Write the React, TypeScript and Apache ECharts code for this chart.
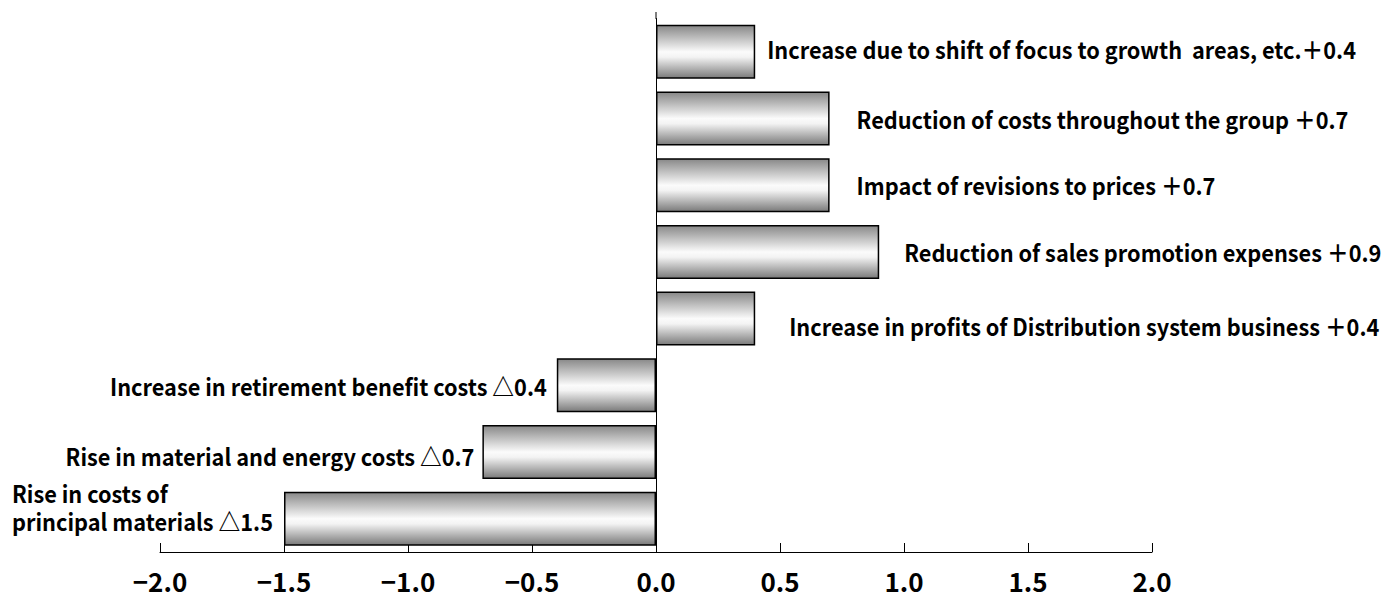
import React, { useEffect, useRef } from "react";
import * as echarts from "echarts";

// Data, top to bottom
const itemLabels: string[] = [
  "Increase due to shift of focus to growth  areas, etc.＋0.4",
  "Reduction of costs throughout the group ＋0.7",
  "Impact of revisions to prices ＋0.7",
  "Reduction of sales promotion expenses ＋0.9",
  "Increase in profits of Distribution system business ＋0.4",
  "Increase in retirement benefit costs △0.4",
  "Rise in material and energy costs △0.7",
  "Rise in costs of\nprincipal materials △1.5",
];
const values: number[] = [0.4, 0.7, 0.7, 0.9, 0.4, -0.4, -0.7, -1.5];
const axisMin = -2.0;
const axisMax = 2.0;
const axisStep = 0.5;

// label placement tweaks (position only)
const labelDistance: number[] = [12, 27, 27, 25, 34, 10, 8, 272];
const labelDy: number[] = [-3, 1, 0, 0, 8, 1, 4, -12];

const FONT = "'Noto Sans CJK JP', sans-serif";
const LABEL_SIZE = 23.5;
const LABEL_SCALE_X = 0.925;

export default function App() {
  const ref = useRef<HTMLDivElement>(null);
  useEffect(() => {
    document.body.style.margin = "0";
    if (!ref.current) return;
    const chart = echarts.init(ref.current, null, { renderer: "svg" });
    const gradient = new echarts.graphic.LinearGradient(0, 0, 0, 1, [
      { offset: 0, color: "#888888" },
      { offset: 0.5, color: "#fbfbfb" },
      { offset: 0.6, color: "#f3f3f3" },
      { offset: 1, color: "#7a7a7a" },
    ]);
    chart.setOption({
      animation: false,
      grid: { left: 160, right: 230, top: 18.5, bottom: 57, containLabel: false },
      xAxis: {
        type: "value",
        min: axisMin,
        max: axisMax,
        interval: axisStep,
        splitLine: { show: false },
        axisLine: { show: true, onZero: false, lineStyle: { color: "#000", width: 1 } },
        axisTick: { show: true, inside: true, length: 9, lineStyle: { color: "#000", width: 1 } },
        axisLabel: {
          margin: 15,
          color: "#000",
          fontSize: 26,
          fontWeight: "bold",
          fontFamily: FONT,
          formatter: (v: number) => (v < 0 ? "−" + Math.abs(v).toFixed(1) : v.toFixed(1)),
        },
      },
      yAxis: {
        type: "category",
        inverse: true,
        data: itemLabels,
        axisLine: { show: true, onZero: true, lineStyle: { color: "#000", width: 1 } },
        axisTick: { show: false },
        axisLabel: { show: false },
        splitLine: { show: false },
      },
      series: [
        {
          type: "bar",
          data: values,
          barCategoryGap: "19%",
          itemStyle: { color: gradient, borderColor: "#000", borderWidth: 1.5 },
          label: { show: false },
        },
      ],
    });
    const x0 = chart.convertToPixel({ xAxisIndex: 0 }, 0) as number;
    const texts = values.map((v, i) => {
      const p = chart.convertToPixel({ xAxisIndex: 0, yAxisIndex: 0 }, [v, i]) as number[];
      const last = i === values.length - 1;
      const pos = v >= 0;
      const x = pos ? p[0] + labelDistance[i] : p[0] - labelDistance[i];
      return {
        type: "text",
        x,
        y: p[1] + labelDy[i],
        scaleX: LABEL_SCALE_X,
        style: {
          text: itemLabels[i],
          x: 0,
          y: 0,
          fill: "#000",
          font: `bold ${LABEL_SIZE}px ${FONT}`,
          align: pos || last ? "left" : "right",
          verticalAlign: "middle",
          lineHeight: 28,
        },
      };
    });
    chart.setOption({
      graphic: [
        {
          type: "line",
          shape: { x1: x0, y1: 12, x2: x0, y2: 19 },
          style: { stroke: "#000", lineWidth: 1 },
        },
        ...texts,
      ],
    });
    return () => chart.dispose();
  }, []);
  return <div ref={ref} style={{ width: 1382, height: 609 }} />;
}
